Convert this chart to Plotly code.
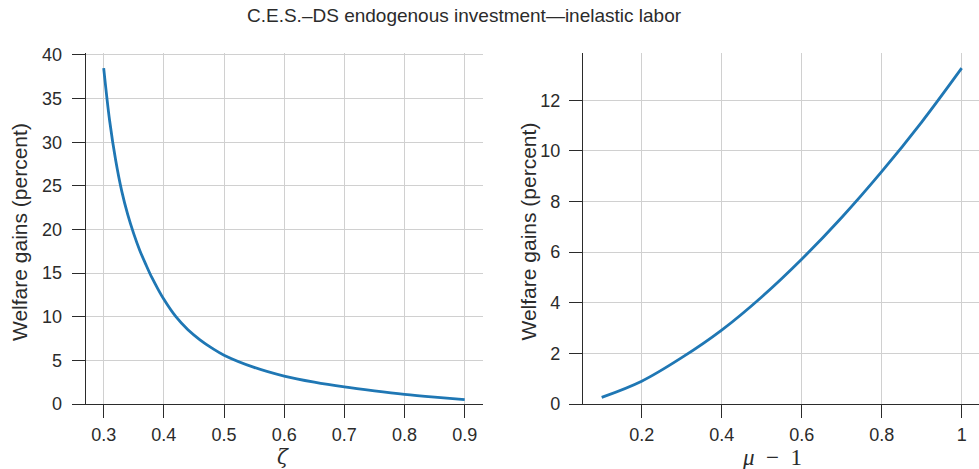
import plotly.graph_objects as go

# Welfare gains vs. zeta (left panel)
zeta = [0.30, 0.31, 0.32, 0.33, 0.34, 0.35, 0.36, 0.37, 0.38, 0.39,
        0.40, 0.42, 0.44, 0.46, 0.48, 0.50, 0.55, 0.60, 0.65, 0.70,
        0.75, 0.80, 0.85, 0.90]
gains_zeta = [38.5, 32.4, 27.9, 24.4, 21.7, 19.5, 17.6, 16.0, 14.5, 13.2,
              12.0, 10.0, 8.5, 7.35, 6.4, 5.6, 4.2, 3.2, 2.5, 1.95,
              1.5, 1.1, 0.78, 0.5]

# Welfare gains vs. markup (right panel)
mu_minus_1 = [0.10, 0.20, 0.30, 0.40, 0.50, 0.60, 0.70, 0.80, 0.90, 1.00]
gains_mu = [0.26, 0.90, 1.83, 2.92, 4.23, 5.72, 7.37, 9.18, 11.14, 13.27]

left_yticks = [0, 5, 10, 15, 20, 25, 30, 35, 40]
left_xticks = [0.3, 0.4, 0.5, 0.6, 0.7, 0.8, 0.9]
right_yticks = [0, 2, 4, 6, 8, 10, 12]
right_xticks = [0.2, 0.4, 0.6, 0.8, 1.0]
right_xticklabels = ["0.2", "0.4", "0.6", "0.8", "1"]

W, H = 979, 469
LINE = "#1f77b4"
INK = "#2b2b2b"
GRID = "#d0d0d0"
FONT = "Liberation Sans, Arial, sans-serif"

fig = go.Figure()
fig.add_trace(go.Scatter(x=zeta, y=gains_zeta, mode="lines",
                         line=dict(color=LINE, width=2.8, shape="spline", smoothing=1.0),
                         xaxis="x", yaxis="y", showlegend=False))
fig.add_trace(go.Scatter(x=mu_minus_1, y=gains_mu, mode="lines",
                         line=dict(color=LINE, width=2.8, shape="spline", smoothing=1.0),
                         xaxis="x2", yaxis="y2", showlegend=False))

y_dom = [(H - 404) / H, (H - 52.7) / H]

common = dict(showline=True, linecolor=INK, linewidth=1.3, ticks="outside", ticklen=13, tickwidth=1.3,
              tickcolor=INK, showgrid=True, gridcolor=GRID, gridwidth=1.2, zeroline=False,
              automargin=False, tickfont=dict(family=FONT, size=18, color=INK))

fig.update_layout(
    width=W, height=H,
    margin=dict(l=0, r=0, t=0, b=0),
    paper_bgcolor="white", plot_bgcolor="white",
    xaxis=dict(domain=[85.7 / W, 483.3 / W], range=[0.2701, 0.9309], anchor="y", ticklabelstandoff=1,
               tickvals=left_xticks, ticktext=[f"{v:.1f}" for v in left_xticks], **common),
    yaxis=dict(domain=y_dom, range=[0, 40.26], anchor="x", tickvals=left_yticks, ticklabelstandoff=6, **common),
    xaxis2=dict(domain=[583 / W, 1.0], range=[0.0533, 1.0433], anchor="y2", ticklabelstandoff=1,
                tickvals=right_xticks, ticktext=right_xticklabels, **common),
    yaxis2=dict(domain=y_dom, range=[0, 13.88], anchor="x2", tickvals=right_yticks, ticklabelstandoff=5, **common),
)

annotations = [
    dict(text="C.E.S.\u2013DS endogenous investment\u2014inelastic labor", x=464 / W, y=1 - 15 / H,
         font=dict(family=FONT, size=19, color=INK)),
    dict(text="Welfare gains (percent)", x=19 / W, y=1 - 232 / H, textangle=-90,
         font=dict(family=FONT, size=21, color=INK)),
    dict(text="Welfare gains (percent)", x=527.5 / W, y=1 - 232 / H, textangle=-90,
         font=dict(family=FONT, size=21, color=INK)),
    dict(text="<i>\u03b6</i>", x=283 / W, y=1 - 457 / H,
         font=dict(family="DejaVu Serif, serif", size=20, color=INK)),
    dict(text="<i>\u03bc</i>  \u2212  1", x=772 / W, y=1 - 457 / H,
         font=dict(family="Liberation Serif, serif", size=23, color=INK)),
]
for a in annotations:
    fig.add_annotation(xref="paper", yref="paper", showarrow=False, xanchor="center", yanchor="middle", **a)

fig.write_html("out.html")
